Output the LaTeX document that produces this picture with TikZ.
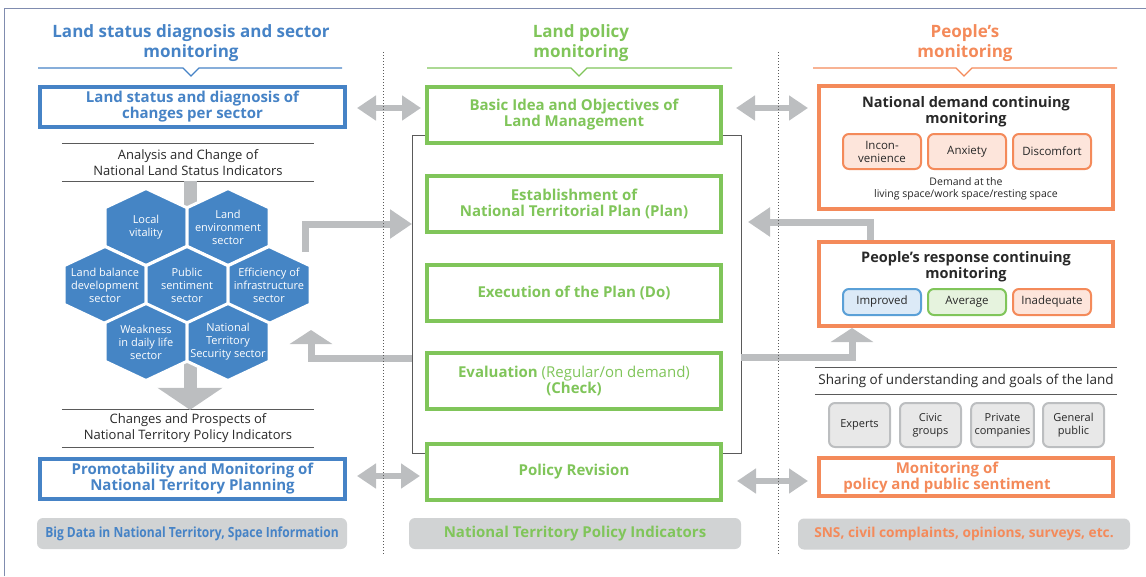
\documentclass[tikz,border=0pt]{standalone}
\usepackage{fontspec}
\setmainfont{Open Sans}
\usetikzlibrary{arrows.meta}

\definecolor{landblue}{RGB}{70,131,198}
\definecolor{hexblue}{RGB}{69,133,197}
\definecolor{policygreen}{RGB}{128,197,90}
\definecolor{peopleorange}{RGB}{244,138,90}
\definecolor{arrowgray}{RGB}{188,190,192}
\definecolor{footgray}{RGB}{209,211,212}
\definecolor{framegray}{RGB}{128,140,175}
\definecolor{inkgray}{RGB}{40,40,40}
\definecolor{rulegray}{RGB}{90,90,90}
\definecolor{chipblue}{RGB}{90,160,215}
\definecolor{chipbluefill}{RGB}{220,234,247}
\newcommand{\cond}[1]{\scalebox{0.86}[1]{#1}}

\begin{document}
\begin{tikzpicture}[x=1pt,y=-1pt,
    head/.style={align=center, font=\bfseries\fontsize{17}{20}\selectfont},
    frame/.style={draw=#1, line width=4pt, fill=white, align=center,
      font=\bfseries\fontsize{15}{16}\selectfont, text=#1},
    bluebox/.style={frame=landblue, minimum width=305pt, minimum height=40pt},
    greenbox/.style={frame=policygreen, minimum width=294pt, minimum height=56pt},
    orangebox/.style={draw=peopleorange, line width=4pt, fill=white, minimum width=294pt},
    ruled/.style={minimum width=252pt, minimum height=37pt, align=center, text=inkgray,
      font=\fontsize{13}{16}\selectfont},
    hextext/.style={align=center, text=white, font=\fontsize{11}{13}\selectfont},
    chip/.style={rounded corners=6pt, line width=2pt, draw=#1, minimum width=78pt,
      align=center, text=inkgray, font=\fontsize{11.5}{13}\selectfont},
    who/.style={rounded corners=6pt, line width=2pt, draw=arrowgray, fill=black!9,
      minimum width=61pt, minimum height=44pt, align=center, text=inkgray,
      font=\fontsize{11}{13}\selectfont},
    foot/.style={fill=footgray, rounded corners=6pt, minimum height=31pt,
      font=\bfseries\fontsize{14}{16}\selectfont, text=#1},
    grayarrow/.style={draw=arrowgray, line width=7pt, -{Triangle[length=22pt,width=28pt]}},
    uparrow/.style={draw=arrowgray, line width=7pt, -{Triangle[length=14pt,width=42pt]}},
    dblarrow/.style={draw=arrowgray, line width=6pt,
      {Triangle[length=19pt,width=24pt]}-{Triangle[length=19pt,width=24pt]}}]

  \useasboundingbox (0,0) rectangle (1146,576);

  % Outer frame
  \draw[framegray, line width=1pt] (4,576) -- (4,8) -- (1146,8);

  % Headings with notched rules
  \node[head, text=landblue] (lhead) at (191,43) {Land status diagnosis and sector\\monitoring};
  \node[head, text=policygreen] (mhead) at (581,43) {Land policy\\monitoring};
  \node[head, text=peopleorange] (rhead) at (965,43) {People’s\\monitoring};
  \draw[landblue, line width=1.2pt] (38,68) -- (183,68) -- (191,76) -- (199,68) -- (342,68);
  \draw[policygreen, line width=1.2pt] (427,68) -- (571,68) -- (579,76) -- (587,68) -- (732,68);
  \draw[peopleorange, line width=1.2pt] (813,68) -- (956,68) -- (964,76) -- (972,68) -- (1117,68);

  % Hexagon cell
  \def\hexcell#1#2#3#4{
    \filldraw[fill=hexblue, draw=white, line width=3pt] (#2,#3) +(0,-38.5) -- +(41,-19.25)
      -- +(41,19.25) -- +(0,38.5) -- +(-41,19.25) -- +(-41,-19.25) -- cycle;
    \node[hextext] (#1) at (#2,#3) {#4};
  }

  % Left column
  \node[bluebox] (lstatus) at (192.5,107) {Land status and diagnosis of\\changes per sector};
  \node[ruled] (analysis) at (188,162.5) {Analysis and Change of\\National Land Status Indicators};
  \node[ruled] (changes) at (188,428.5) {Changes and Prospects of\\National Territory Policy Indicators};
  \foreach \n in {analysis,changes} {
    \draw[rulegray, line width=0.8pt] (\n.north west) -- (\n.north east);
    \draw[rulegray, line width=0.8pt] (\n.south west) -- (\n.south east);
  }
  \draw[draw=arrowgray, line width=13pt, -{Triangle[length=22pt,width=64pt]}]
    (analysis.south -| 190,0) -- (changes.north -| 190,0);

  \hexcell{local}{146}{227}{Local\\vitality}
  \hexcell{envir}{228}{227}{Land\\environment\\sector}
  \hexcell{balance}{105}{285}{Land balance\\development\\sector}
  \hexcell{public}{187}{285}{Public\\sentiment\\sector}
  \hexcell{effic}{269}{285}{Efficiency of\\infrastructure\\sector}
  \hexcell{weak}{146}{342}{Weakness\\in daily life\\sector}
  \hexcell{secur}{228}{342}{National\\Territory\\Security sector}

  \node[bluebox] (promo) at (192.5,479) {Promotability and Monitoring of\\National Territory Planning};
  \node[foot=landblue, minimum width=310pt] (lfoot) at (192,533.5)
    {\cond{Big Data in National Territory, Space Information}};

  % Middle column
  \node[draw=rulegray, line width=0.8pt, minimum width=329pt, minimum height=318pt] (loop) at (576.5,294) {};
  \node[greenbox] (basic) at (574,115) {Basic Idea and Objectives of\\Land Management};
  \node[greenbox] (estab) at (574,203.5) {Establishment of\\National Territorial Plan (Plan)};
  \node[greenbox] (exec) at (574,292.5) {Execution of the Plan (Do)};
  \node[greenbox] (eval) at (574,381) {Evaluation {\mdseries (Regular/on demand)}\\(Check)};
  \node[greenbox] (revision) at (574,472) {Policy Revision};
  \node[foot=policygreen, minimum width=332pt, font=\bfseries\fontsize{15}{16}\selectfont] (mfoot)
    at (575,533.5) {National Territory Policy Indicators};

  % Right column
  \node[orangebox, minimum height=123pt] (demand) at (966,147.5) {};
  \node[align=center, font=\bfseries\fontsize{14.5}{16}\selectfont, text=inkgray] (demandtitle)
    at (966,112) {National demand continuing\\monitoring};
  \node[chip=peopleorange, fill=peopleorange!22, minimum height=35pt] (incon) at (882,151.5) {Incon-\\venience};
  \node[chip=peopleorange, fill=peopleorange!22, minimum height=35pt] (anxiety) at (967,151.5) {Anxiety};
  \node[chip=peopleorange, fill=peopleorange!22, minimum height=35pt] (discomf) at (1052,151.5) {Discomfort};
  \node[align=center, text=inkgray, font=\fontsize{10.5}{12}\selectfont] (space) at (966,189)
    {Demand at the\\living space/work space/resting space};

  \node[orangebox, minimum height=84pt] (response) at (966,284) {};
  \node[align=center, font=\bfseries\fontsize{14.5}{16}\selectfont, text=inkgray] (resptitle)
    at (966,267) {People’s response continuing\\monitoring};
  \node[chip=chipblue, fill=chipbluefill, minimum height=26pt] (improved) at (882,302) {Improved};
  \node[chip=policygreen, fill=policygreen!20, minimum height=26pt] (average) at (967,302) {Average};
  \node[chip=peopleorange, fill=peopleorange!22, minimum height=26pt] (inadeq) at (1052,302) {Inadequate};

  \node[minimum width=268pt, minimum height=26pt, text=inkgray,
    font=\fontsize{13.5}{16}\selectfont] (sharing) at (966,381) {Sharing of understanding and goals of the land};
  \draw[rulegray, line width=0.8pt] (sharing.north west) -- (sharing.north east);
  \draw[rulegray, line width=0.8pt] (sharing.south west) -- (sharing.south east);

  \node[who] (experts) at (859.5,425) {Experts};
  \node[who] (civic) at (930.5,425) {Civic\\groups};
  \node[who] (private) at (1002.5,425) {Private\\companies};
  \node[who] (general) at (1073.5,425) {General\\public};

  \node[orangebox, minimum height=38pt] (polmon) at (966,477) {};
  \node[align=center, text=peopleorange, font=\bfseries\fontsize{15}{16}\selectfont] (polmontext)
    at (947,478) {Monitoring of\\policy and public sentiment};
  \node[foot=peopleorange, minimum width=332pt, font=\bfseries\fontsize{13.7}{16}\selectfont] (rfoot)
    at (964,534) {SNS, civil complaints, opinions, surveys, etc.};

  % Connector end points
  \coordinate (effout) at (305,252);
  \coordinate (planin) at (412,224);
  \coordinate (checkL) at (412,358);
  \coordinate (hexin) at (311,330);
  \coordinate (checkR) at (741,357);
  \coordinate (respin) at (852,328);
  \coordinate (respout) at (870,240);
  \coordinate (planR) at (748,222);
  \coordinate (toprow) at (0,108);
  \coordinate (botrowL) at (0,476);
  \coordinate (botrowR) at (0,481);

  % Gray arrows
  \draw[grayarrow] (effout) |- (planin);
  \draw[uparrow] (checkL) -| (hexin);
  \draw[uparrow] (checkR) -| (respin);
  \draw[grayarrow] (respout) |- (planR);
  \draw[dblarrow, shorten <=10pt, shorten >=4pt] (lstatus.east |- toprow) -- (basic.west |- toprow);
  \draw[dblarrow, shorten <=13pt, shorten >=9pt] (basic.east |- toprow) -- (demand.west |- toprow);
  \draw[dblarrow, shorten <=10pt, shorten >=5pt] (promo.east |- botrowL) -- (revision.west |- botrowL);
  \draw[dblarrow, shorten <=14pt, shorten >=9pt] (revision.east |- botrowR) -- (polmon.west |- botrowR);

  % Column dividers
  \draw[rulegray, line width=1pt, dotted] (383,52) -- (383,555);
  \draw[rulegray, line width=1pt, dotted] (778,52) -- (778,555);
\end{tikzpicture}
\end{document}
